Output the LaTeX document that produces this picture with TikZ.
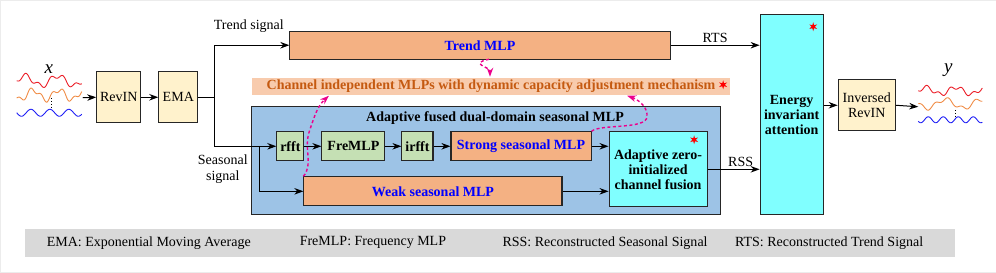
\documentclass[tikz,border=0pt]{standalone}
\usepackage{fontspec}
\setmainfont{Liberation Serif}
\usetikzlibrary{positioning,arrows.meta,calc,shapes.geometric}
\definecolor{cream}{RGB}{255,242,204}
\definecolor{salmon}{RGB}{244,177,131}
\definecolor{palesalmon}{RGB}{248,203,173}
\definecolor{leaf}{RGB}{197,224,180}
\definecolor{skyblue}{RGB}{157,195,230}
\definecolor{aqua}{RGB}{128,255,255}
\definecolor{rust}{RGB}{197,90,17}
\definecolor{legendgray}{RGB}{217,217,217}
\definecolor{wavered}{RGB}{235,30,40}
\definecolor{waveorange}{RGB}{240,140,70}
\definecolor{waveblue}{RGB}{30,30,245}

\begin{document}
\begin{tikzpicture}[
  x=1pt,y=-1pt,
  >={Stealth[length=9pt,width=6.5pt]},
  every node/.style={font=\fontsize{14}{15}\selectfont},
  blk/.style={draw=black!85,line width=1.1pt,inner sep=0pt,align=center},
  link/.style={line width=1pt},
  hint/.style={magenta,line width=1.4pt,dash pattern=on 3pt off 2.5pt},
  mark6/.style={star,star points=6,star point ratio=2.6,fill=red,
    minimum size=9pt,inner sep=0pt},
  varlab/.style={font=\fontsize{19}{20}\selectfont\itshape}
]
% 外枠
\draw[gray!15] (0.5,0.5) rectangle (995.5,272.5);

% 入力系列 x
\draw[wavered,line width=0.9pt] plot[domain=0:65,samples=90,smooth]
  ({17+\x},{81-5*sin(\x*11)+2.5*sin(\x*29)});
\draw[waveorange,line width=0.9pt] plot[domain=0:65,samples=90,smooth]
  ({17+\x},{95+5*sin(\x*14+40)-2.5*sin(\x*33)});
\draw[waveblue,line width=0.9pt] plot[domain=0:65,samples=90,smooth]
  ({17+\x},{113+3.5*sin(\x*19)});
\draw[dotted,line width=1pt] (52,98) -- (52,109);
\node[varlab] (xlab) at (49,69) {x};
\coordinate (xw) at (83,98);

% RevIN, EMA
\node[blk,fill=cream,minimum width=44pt,minimum height=51pt]
  (revin) at (119,97.5) {RevIN};
\node[blk,fill=cream,minimum width=39pt,minimum height=51pt]
  (ema) at (178.5,97.5) {EMA};
\draw[link,->] (xw) -- (revin.west);
\draw[link,->] (revin) -- (ema);
\coordinate (split) at (215,97.5);
\draw[link] (ema.east) -- (split);

% トレンド
\node[blk,fill=salmon,minimum width=380pt,minimum height=28pt]
  (trend) at (480,45.5) {\textbf{\color{blue}Trend MLP}};
\draw[link,->] (split) |- (trend.west);
\node (tsig) at (249,26) {Trend signal};

% チャネル独立 MLP
\node[fill=palesalmon,minimum width=478pt,minimum height=17pt,inner sep=0pt]
  (chan) at (491,86.5)
  {\textbf{\color{rust}Channel independent MLPs with dynamic capacity adjustment mechanism}};
\node[mark6] (chanstar) at (723,85) {};

% 季節成分
\node[draw=black!85,line width=1.1pt,fill=skyblue,minimum width=468pt,minimum height=108pt]
  (season) at (486,161) {};
\node (seastitle) at (495,118) {\textbf{Adaptive fused dual-domain seasonal MLP}};
\node[blk,fill=leaf,minimum width=27pt,minimum height=29pt]
  (rfft) at (290.5,146.5) {\textbf{rfft}};
\node[blk,fill=leaf,minimum width=63pt,minimum height=29pt]
  (fremlp) at (353.5,146.5) {\textbf{FreMLP}};
\node[blk,fill=leaf,minimum width=31pt,minimum height=29pt]
  (irfft) at (417.5,146.5) {\textbf{irfft}};
\node[blk,fill=salmon,minimum width=140pt,minimum height=29pt]
  (strong) at (521,146.5) {\textbf{\color{blue}Strong seasonal MLP}};
\node[blk,fill=salmon,minimum width=258pt,minimum height=29pt]
  (weak) at (433,191.5) {\textbf{\color{blue}Weak seasonal MLP}};
\node[blk,fill=aqua,minimum width=98pt,minimum height=75pt]
  (fusion) at (658,169.5) {\textbf{Adaptive zero-}\\\textbf{initialized}\\\textbf{channel fusion}};
\node[mark6] (fusestar) at (694,140) {};

\draw[link,->] (split) |- (rfft.west);
\coordinate (split2) at (260,146.5);
\draw[link,->] (split2) |- (weak.west);
\node[align=center,font=\fontsize{14}{16}\selectfont] (ssig) at (223,169) {Seasonal\\signal};
\draw[link,->] (rfft) -- (fremlp);
\draw[link,->] (fremlp) -- (irfft);
\draw[link,->] (irfft) -- (strong);
\draw[link,->] (strong.east) -- (strong.east -| fusion.west);
\draw[link,->] (weak.east) -- (weak.east -| fusion.west);

% エネルギー不変注意
\node[blk,fill=aqua,minimum width=63pt,minimum height=200pt]
  (energy) at (791.5,115) {\textbf{Energy}\\\textbf{invariant}\\\textbf{attention}};
\node[mark6] (enstar) at (813,27) {};
\draw[link,->] (trend.east) -- (trend.east -| energy.west)
  node[midway,above,yshift=-1pt] (rts) {RTS};
\draw[link,->] (fusion.east) -- (fusion.east -| energy.west)
  node[midway,above,xshift=7pt,yshift=-1pt] (rss) {RSS};

% 出力
\node[blk,fill=cream,minimum width=57pt,minimum height=51pt]
  (inv) at (866.5,105.5) {Inversed\\RevIN};
\draw[link,->] (inv.west -| energy.east) -- (inv.west);
\coordinate (yw) at (918,107);
\draw[link,->] (inv.east) -- (yw);
\draw[wavered,line width=0.9pt] plot[domain=0:64,samples=90,smooth]
  ({918+\x},{91-3.5*sin(\x*12)+2*sin(\x*31)});
\draw[waveorange,line width=0.9pt] plot[domain=0:64,samples=90,smooth]
  ({918+\x},{104+4.5*sin(\x*10)-2*sin(\x*27)});
\draw[waveblue,line width=0.9pt] plot[domain=0:64,samples=90,smooth]
  ({918+\x},{120+3*sin(\x*24+30)});
\draw[dotted,line width=1pt] (955,110) -- (955,118);
\node[varlab] (ylab) at (948,70) {y};

% 動的容量調整（点線矢印）
\draw[hint,->] (489,59.5) .. controls (468,64) and (490,67) .. (490,77);
\draw[hint,->] (weak.north west) .. controls (314,165) and (303,148) .. (310,130)
  .. controls (315,115) and (318,106) .. (329,96);
\draw[hint,->] (strong.north east) .. controls (600,124) and (646,130) .. (647,117)
  .. controls (648,106) and (636,99) .. (627,96);

% 凡例
\node[fill=legendgray,minimum width=930pt,minimum height=28pt,inner sep=0pt]
  (legend) at (490,243) {};
\node (lg1) at (149,243) {EMA: Exponential Moving Average};
\node (lg2) at (373,243) {FreMLP: Frequency MLP};
\node (lg3) at (605,243) {RSS: Reconstructed Seasonal Signal};
\node (lg4) at (829,243) {RTS: Reconstructed Trend Signal};
\end{tikzpicture}
\end{document}
